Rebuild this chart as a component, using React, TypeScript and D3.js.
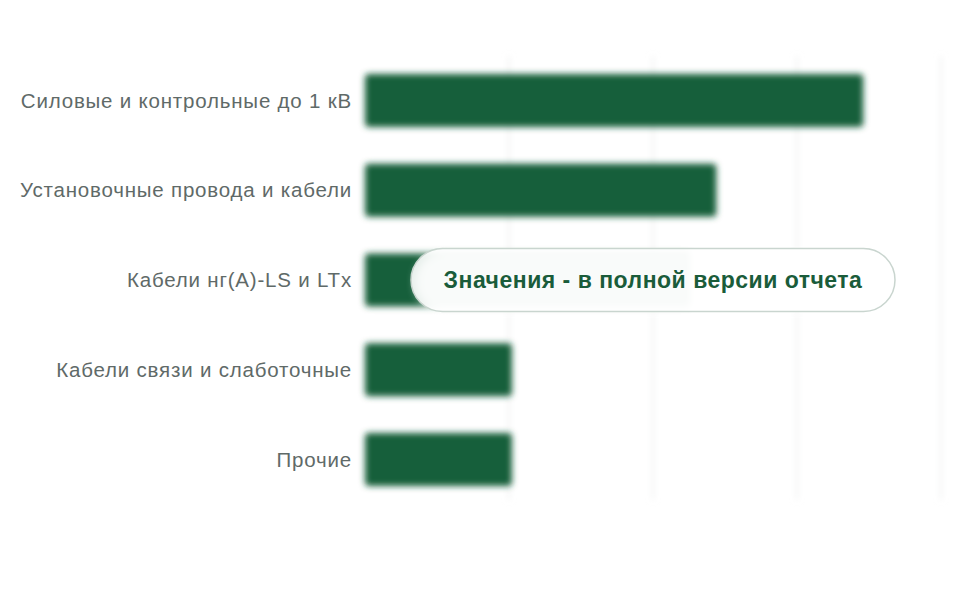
import { useEffect, useRef } from "react";
import * as d3 from "d3";

// categories and values (values are hidden in the source)
const categories = [
  "Силовые и контрольные до 1 кВ",
  "Установочные провода и кабели",
  "Кабели нг(A)-LS и LTx",
  "Кабели связи и слаботочные",
  "Прочие",
];
const values = [34.6, 24.4, 22.6, 10.2, 10.2];
const gridTicks = [0, 10, 20, 30, 40];
const notice = "Значения - в полной версии отчета";

const width = 960;
const height = 600;
const margin = { top: 56, right: 19, bottom: 96, left: 365 };

export default function App() {
  const svgRef = useRef<SVGSVGElement | null>(null);

  useEffect(() => {
    const svg = d3.select(svgRef.current);
    svg.selectAll("*").remove();

    const x = d3
      .scaleLinear()
      .domain([0, 40])
      .range([margin.left, width - margin.right]);

    const y = d3
      .scaleBand<string>()
      .domain(categories)
      .range([margin.top, height - margin.bottom])
      .paddingInner(0.41)
      .paddingOuter(0.2);

    const defs = svg.append("defs");
    defs
      .append("filter")
      .attr("id", "blur")
      .attr("x", "-10%")
      .attr("y", "-30%")
      .attr("width", "120%")
      .attr("height", "160%")
      .append("feGaussianBlur")
      .attr("stdDeviation", 3.1);

    const pillShadow = defs
      .append("filter")
      .attr("id", "glow")
      .attr("x", "-10%")
      .attr("y", "-40%")
      .attr("width", "120%")
      .attr("height", "180%");
    pillShadow
      .append("feGaussianBlur")
      .attr("in", "SourceGraphic")
      .attr("stdDeviation", 4);

    // faint vertical grid
    svg
      .append("g")
      .attr("filter", "url(#blur)")
      .selectAll("line")
      .data(gridTicks.slice(1))
      .join("line")
      .attr("x1", (d) => x(d))
      .attr("x2", (d) => x(d))
      .attr("y1", margin.top)
      .attr("y2", height - margin.bottom - 4)
      .attr("stroke", "#e8eaea")
      .attr("stroke-width", 1.5);

    // bars
    svg
      .append("g")
      .attr("filter", "url(#blur)")
      .selectAll("rect")
      .data(values)
      .join("rect")
      .attr("x", x(0))
      .attr("y", (_, i) => y(categories[i])!)
      .attr("width", (d) => x(d) - x(0))
      .attr("height", y.bandwidth())
      .attr("rx", 4)
      .attr("fill", "#165e3a");

    // category labels
    svg
      .append("g")
      .selectAll("text")
      .data(categories)
      .join("text")
      .attr("x", margin.left - 13)
      .attr("y", (d) => y(d)! + y.bandwidth() / 2)
      .attr("dy", "0.35em")
      .attr("text-anchor", "end")
      .attr("font-family", "'Liberation Sans', Arial, sans-serif")
      .attr("font-size", 20.5)
      .attr("letter-spacing", 0.8)
      .attr("fill", "#5f6a68")
      .text((d) => d);

    // notice pill over the third bar
    const cy = y(categories[2])! + y.bandwidth() / 2;
    const pill = { x: 411, w: 484, h: 63 };
    svg
      .append("rect")
      .attr("x", pill.x + 4)
      .attr("y", cy - pill.h / 2 + 2)
      .attr("width", pill.w - 8)
      .attr("height", pill.h)
      .attr("rx", pill.h / 2)
      .attr("fill", "#ffffff")
      .attr("opacity", 0.75)
      .attr("filter", "url(#glow)");
    svg
      .append("rect")
      .attr("x", pill.x)
      .attr("y", cy - pill.h / 2)
      .attr("width", pill.w)
      .attr("height", pill.h)
      .attr("rx", pill.h / 2)
      .attr("fill", "rgba(255,255,255,0.89)")
      .attr("stroke", "#c9d5cf")
      .attr("stroke-width", 1.5);
    svg
      .append("text")
      .attr("x", pill.x + pill.w / 2)
      .attr("y", cy)
      .attr("dy", "0.35em")
      .attr("text-anchor", "middle")
      .attr("font-family", "'Liberation Sans', Arial, sans-serif")
      .attr("font-weight", "bold")
      .attr("font-size", 23)
      .attr("letter-spacing", 0.5)
      .attr("fill", "#1a5c3a")
      .text(notice);
  }, []);

  return (
    <svg
      ref={svgRef}
      width={width}
      height={height}
      style={{ position: "absolute", left: 0, top: 0, background: "#fff" }}
    ></svg>
  );
}
